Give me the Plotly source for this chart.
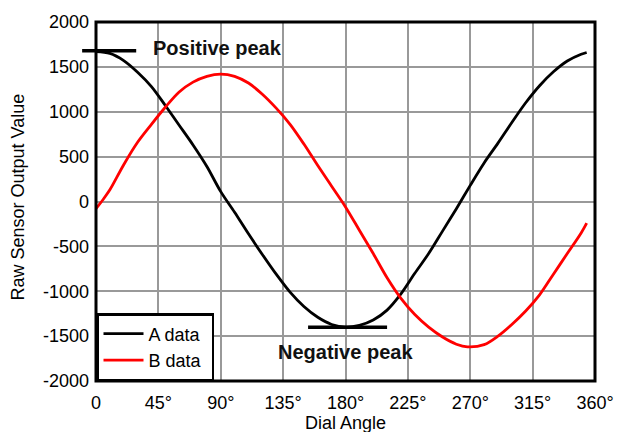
import plotly.graph_objects as go

# Dial angle (degrees)
angle_a = [0, 10, 20, 30, 40, 50, 60, 70, 80, 90, 100, 110, 120, 130, 140, 150, 160, 170, 180,
           190, 200, 210, 220, 230, 240, 250, 260, 270, 280, 290, 300, 310, 320, 330, 340, 350, 354]
a_data = [1670, 1650, 1570, 1440, 1280, 1070, 850, 630, 390, 110, -120, -360, -590, -810, -1010,
          -1170, -1290, -1370, -1400, -1380, -1320, -1210, -1030, -800, -580, -330, -80, 180, 430,
          650, 880, 1100, 1290, 1445, 1565, 1640, 1660]

angle_b = [0, 5, 10, 20, 30, 40, 50, 60, 70, 80, 90, 100, 110, 120, 130, 140, 150, 160, 170, 180,
           190, 200, 210, 220, 230, 240, 250, 260, 268, 280, 290, 300, 310, 320, 330, 340, 350, 354]
b_data = [-80, 20, 130, 410, 660, 860, 1050, 1220, 1330, 1395, 1420, 1395, 1320, 1195, 1040, 860,
          640, 400, 170, -60, -320, -580, -850, -1080, -1260, -1400, -1510, -1590, -1620, -1595,
          -1500, -1370, -1220, -1040, -810, -580, -350, -240]

x_tick_vals = [0, 45, 90, 135, 180, 225, 270, 315, 360]
x_tick_text = ["0", "45°", "90°", "135°", "180°", "225°", "270°", "315°", "360°"]
y_tick_vals = [-2000, -1500, -1000, -500, 0, 500, 1000, 1500, 2000]
y_tick_text = ["-2000", "-1500", "-1000", "-500", "0", "500", "1000", "1500", "2000"]

x_range = [0, 360]
y_range = [-2000, 2000]

pos_peak = {"angle": 0, "value": 1680, "label": "Positive peak"}
neg_peak = {"angle": 180, "value": -1400, "label": "Negative peak"}

FONT = "Liberation Sans, Arial, sans-serif"

def xp(v):
    return (v - x_range[0]) / (x_range[1] - x_range[0])

def yp(v):
    return (v - y_range[0]) / (y_range[1] - y_range[0])

fig = go.Figure()
fig.add_trace(go.Scatter(x=angle_a, y=a_data, mode="lines", name="A data&nbsp;",
                         line=dict(color="#000000", width=2.8, shape="spline", smoothing=0.9)))
fig.add_trace(go.Scatter(x=angle_b, y=b_data, mode="lines", name="B data&nbsp;",
                         line=dict(color="#ff0000", width=2.8, shape="spline", smoothing=0.9)))

shapes = [
    # frame
    dict(type="rect", xref="paper", yref="paper", x0=0, x1=1, y0=0, y1=1,
         line=dict(color="black", width=3), layer="above"),
    # positive peak marker
    dict(type="line", xref="paper", yref="paper",
         x0=xp(pos_peak["angle"] - 10), x1=xp(pos_peak["angle"] + 29),
         y0=yp(pos_peak["value"]), y1=yp(pos_peak["value"]),
         line=dict(color="black", width=3.5), layer="above"),
    # negative peak marker
    dict(type="line", xref="x", yref="y",
         x0=neg_peak["angle"] - 27, x1=neg_peak["angle"] + 30,
         y0=neg_peak["value"], y1=neg_peak["value"],
         line=dict(color="black", width=3.5), layer="above"),
]

annotations = [
    dict(x=88, y=1710, xref="x", yref="y", text="<b>" + pos_peak["label"] + "</b>",
         showarrow=False, font=dict(family=FONT, size=20, color="#111111"),
         xanchor="center", yanchor="middle"),
    dict(x=180, y=-1680, xref="x", yref="y", text="<b>" + neg_peak["label"] + "</b>",
         showarrow=False, font=dict(family=FONT, size=20, color="#111111"),
         xanchor="center", yanchor="middle"),
    dict(x=0, y=0.5, xref="paper", yref="paper", text="Raw Sensor Output Value",
         textangle=-90, showarrow=False, xanchor="center", yanchor="middle",
         xshift=-79, yshift=4, font=dict(family=FONT, size=18, color="black")),
    dict(x=0.5, y=0, xref="paper", yref="paper", text="Dial Angle",
         showarrow=False, xanchor="center", yanchor="middle",
         yshift=-42, font=dict(family=FONT, size=18, color="black")),
]

fig.update_layout(
    width=626, height=432,
    margin=dict(l=96, r=22, t=19, b=51),
    paper_bgcolor="white", plot_bgcolor="white",
    font=dict(family=FONT, size=18, color="black"),
    showlegend=True,
    legend=dict(x=0, y=0, xanchor="left", yanchor="bottom",
                bgcolor="white", bordercolor="black", borderwidth=2.5,
                font=dict(family=FONT, size=18, color="black"),
                itemwidth=40, tracegroupgap=0),
    shapes=shapes,
    annotations=annotations,
    xaxis=dict(range=x_range, tickvals=x_tick_vals, ticktext=x_tick_text,
               showgrid=True, gridcolor="#999999", gridwidth=1.5,
               zeroline=False, showline=False, ticks="", ticklabelstandoff=9,
               tickfont=dict(family=FONT, size=18)),
    yaxis=dict(range=y_range, tickvals=y_tick_vals, ticktext=y_tick_text,
               showgrid=True, gridcolor="#999999", gridwidth=1.5,
               zeroline=False, showline=False, ticks="", ticklabelstandoff=6,
               tickfont=dict(family=FONT, size=18)),
)

fig.write_html("out.html")
